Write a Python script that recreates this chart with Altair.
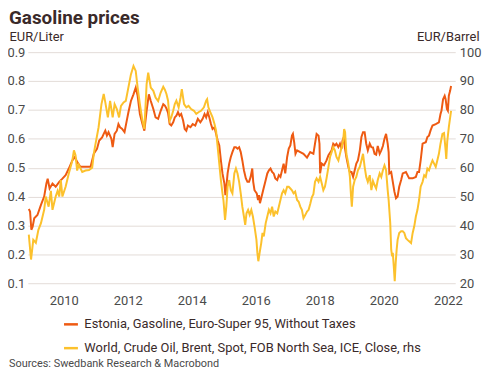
import altair as alt
import pandas as pd

EST = "Estonia, Gasoline, Euro-Super 95, Without Taxes"
BRENT = "World, Crude Oil, Brent, Spot, FOB North Sea, ICE, Close, rhs"
SOURCE = "Sources: Swedbank Research & Macrobond"

x_ticks = [2010, 2012, 2014, 2016, 2018, 2020, 2022]
left_ticks = [0.1, 0.2, 0.3, 0.4, 0.5, 0.6, 0.7, 0.8, 0.9]
right_ticks = [20, 30, 40, 50, 60, 70, 80, 90, 100]

# Estonia gasoline, EUR/Liter (left axis)
est_years = [2008.91, 2008.95, 2008.99, 2009.03, 2009.08, 2009.18, 2009.29, 2009.39, 2009.46, 2009.50,
             2009.56, 2009.65, 2009.75, 2009.86, 2009.96, 2010.06, 2010.16, 2010.27, 2010.35, 2010.42,
             2010.52, 2010.68, 2010.84, 2010.94, 2011.04, 2011.11, 2011.20, 2011.25, 2011.30, 2011.35,
             2011.40, 2011.49, 2011.53, 2011.59, 2011.66, 2011.71, 2011.76, 2011.82, 2011.90, 2011.97,
             2012.02, 2012.10, 2012.18, 2012.25, 2012.31, 2012.38, 2012.46, 2012.52, 2012.59, 2012.66,
             2012.72, 2012.80, 2012.87, 2012.95, 2013.03, 2013.11, 2013.16, 2013.21, 2013.26, 2013.31,
             2013.36, 2013.42, 2013.47, 2013.52, 2013.57, 2013.62, 2013.67, 2013.73, 2013.78, 2013.83,
             2013.88, 2013.96, 2014.03, 2014.11, 2014.19, 2014.27, 2014.34, 2014.40, 2014.45, 2014.50,
             2014.55, 2014.60, 2014.65, 2014.71, 2014.76, 2014.81, 2014.86, 2014.91, 2014.96, 2015.02,
             2015.05, 2015.09, 2015.12, 2015.17, 2015.22, 2015.27, 2015.33, 2015.38, 2015.43, 2015.48,
             2015.53, 2015.58, 2015.63, 2015.69, 2015.74, 2015.79, 2015.84, 2015.89, 2015.92, 2015.96,
             2016.03, 2016.07, 2016.10, 2016.13, 2016.17, 2016.23, 2016.31, 2016.36, 2016.41, 2016.46,
             2016.51, 2016.56, 2016.61, 2016.67, 2016.72, 2016.77, 2016.82, 2016.87, 2016.92, 2016.98,
             2017.03, 2017.08, 2017.13, 2017.16, 2017.20, 2017.24, 2017.29, 2017.39, 2017.49, 2017.60,
             2017.70, 2017.80, 2017.85, 2017.90, 2017.96, 2017.99, 2018.01, 2018.06, 2018.13, 2018.21,
             2018.27, 2018.37, 2018.42, 2018.47, 2018.52, 2018.58, 2018.63, 2018.68, 2018.71, 2018.75,
             2018.78, 2018.83, 2018.89, 2018.94, 2018.99, 2019.04, 2019.09, 2019.14, 2019.19, 2019.25,
             2019.30, 2019.35, 2019.40, 2019.45, 2019.50, 2019.56, 2019.61, 2019.66, 2019.71, 2019.76,
             2019.81, 2019.87, 2019.92, 2019.97, 2020.02, 2020.07, 2020.12, 2020.15, 2020.17, 2020.23,
             2020.28, 2020.33, 2020.38, 2020.43, 2020.48, 2020.54, 2020.59, 2020.69, 2020.79, 2020.90,
             2021.00, 2021.05, 2021.10, 2021.15, 2021.21, 2021.31, 2021.36, 2021.41, 2021.46, 2021.52,
             2021.62, 2021.72, 2021.77, 2021.80, 2021.85, 2021.90, 2021.93, 2021.97, 2022.00, 2022.03,
             2022.07, 2022.10]
est_values = [0.357, 0.348, 0.285, 0.296, 0.325, 0.336, 0.371, 0.400, 0.445, 0.462,
              0.428, 0.445, 0.434, 0.451, 0.462, 0.474, 0.497, 0.525, 0.537, 0.520,
              0.503, 0.503, 0.503, 0.548, 0.565, 0.594, 0.605, 0.617, 0.628, 0.611,
              0.623, 0.600, 0.571, 0.617, 0.628, 0.651, 0.640, 0.635, 0.623, 0.663,
              0.691, 0.731, 0.754, 0.777, 0.749, 0.686, 0.651, 0.628, 0.697, 0.754,
              0.731, 0.703, 0.674, 0.669, 0.697, 0.720, 0.715, 0.705, 0.690, 0.651,
              0.646, 0.657, 0.674, 0.680, 0.692, 0.680, 0.686, 0.663, 0.634, 0.628,
              0.646, 0.640, 0.651, 0.646, 0.669, 0.657, 0.669, 0.686, 0.674, 0.692,
              0.674, 0.651, 0.634, 0.640, 0.617, 0.594, 0.577, 0.525, 0.480, 0.445,
              0.405, 0.445, 0.480, 0.514, 0.537, 0.554, 0.571, 0.571, 0.566, 0.571,
              0.554, 0.525, 0.491, 0.463, 0.451, 0.451, 0.468, 0.497, 0.451, 0.422,
              0.411, 0.388, 0.405, 0.377, 0.394, 0.422, 0.457, 0.480, 0.491, 0.497,
              0.485, 0.480, 0.463, 0.457, 0.474, 0.468, 0.491, 0.514, 0.480, 0.537,
              0.566, 0.577, 0.611, 0.617, 0.588, 0.548, 0.560, 0.554, 0.548, 0.535,
              0.554, 0.548, 0.583, 0.617, 0.611, 0.583, 0.480, 0.514, 0.508, 0.525,
              0.543, 0.560, 0.583, 0.577, 0.583, 0.571, 0.583, 0.566, 0.594, 0.606,
              0.571, 0.537, 0.503, 0.485, 0.485, 0.468, 0.491, 0.514, 0.525, 0.560,
              0.606, 0.623, 0.623, 0.583, 0.560, 0.583, 0.571, 0.570, 0.548, 0.545,
              0.575, 0.548, 0.560, 0.575, 0.600, 0.617, 0.583, 0.554, 0.480, 0.485,
              0.451, 0.417, 0.394, 0.400, 0.434, 0.457, 0.480, 0.485, 0.463, 0.463,
              0.468, 0.485, 0.485, 0.525, 0.583, 0.588, 0.606, 0.611, 0.629, 0.646,
              0.651, 0.657, 0.686, 0.697, 0.737, 0.749, 0.737, 0.703, 0.697, 0.749,
              0.766, 0.783]

# Brent crude, EUR/Barrel (right axis)
brent_years = [2008.91, 2008.98, 2009.05, 2009.13, 2009.21, 2009.29, 2009.39, 2009.44, 2009.53, 2009.60,
               2009.65, 2009.75, 2009.81, 2009.86, 2009.91, 2009.96, 2010.06, 2010.16, 2010.27, 2010.32,
               2010.37, 2010.42, 2010.47, 2010.58, 2010.68, 2010.79, 2010.89, 2010.94, 2010.99, 2011.09,
               2011.18, 2011.25, 2011.30, 2011.38, 2011.45, 2011.53, 2011.59, 2011.66, 2011.73, 2011.79,
               2011.87, 2011.94, 2012.02, 2012.10, 2012.18, 2012.25, 2012.31, 2012.38, 2012.46, 2012.52,
               2012.59, 2012.64, 2012.72, 2012.80, 2012.87, 2012.95, 2013.03, 2013.11, 2013.16, 2013.21,
               2013.26, 2013.31, 2013.36, 2013.42, 2013.47, 2013.52, 2013.59, 2013.65, 2013.69, 2013.76,
               2013.83, 2013.90, 2013.98, 2014.07, 2014.14, 2014.21, 2014.29, 2014.38, 2014.45, 2014.48,
               2014.52, 2014.58, 2014.65, 2014.71, 2014.76, 2014.81, 2014.86, 2014.91, 2014.96, 2014.99,
               2015.04, 2015.08, 2015.12, 2015.17, 2015.22, 2015.27, 2015.33, 2015.38, 2015.43, 2015.48,
               2015.53, 2015.58, 2015.63, 2015.67, 2015.71, 2015.76, 2015.81, 2015.86, 2015.91, 2015.96,
               2016.02, 2016.05, 2016.08, 2016.12, 2016.17, 2016.21, 2016.25, 2016.31, 2016.36, 2016.41,
               2016.46, 2016.51, 2016.56, 2016.61, 2016.67, 2016.72, 2016.77, 2016.82, 2016.87, 2016.92,
               2016.98, 2017.03, 2017.08, 2017.13, 2017.18, 2017.23, 2017.29, 2017.34, 2017.39, 2017.44,
               2017.49, 2017.54, 2017.60, 2017.65, 2017.70, 2017.75, 2017.80, 2017.85, 2017.90, 2017.96,
               2018.01, 2018.06, 2018.11, 2018.16, 2018.21, 2018.27, 2018.32, 2018.37, 2018.42, 2018.47,
               2018.52, 2018.58, 2018.63, 2018.68, 2018.73, 2018.76, 2018.79, 2018.83, 2018.89, 2018.94,
               2018.97, 2019.00, 2019.04, 2019.09, 2019.14, 2019.19, 2019.25, 2019.30, 2019.35, 2019.40,
               2019.45, 2019.50, 2019.56, 2019.61, 2019.66, 2019.71, 2019.76, 2019.81, 2019.87, 2019.92,
               2019.97, 2020.02, 2020.07, 2020.12, 2020.15, 2020.20, 2020.23, 2020.26, 2020.28, 2020.31,
               2020.34, 2020.37, 2020.40, 2020.43, 2020.48, 2020.54, 2020.59, 2020.64, 2020.69, 2020.74,
               2020.79, 2020.85, 2020.90, 2020.95, 2021.00, 2021.05, 2021.10, 2021.15, 2021.21, 2021.26,
               2021.31, 2021.36, 2021.41, 2021.46, 2021.52, 2021.57, 2021.62, 2021.67, 2021.72, 2021.77,
               2021.83, 2021.88, 2021.93, 2021.95, 2021.98, 2022.03, 2022.10]
brent_values = [36.8, 28.2, 35.0, 34.0, 38.5, 40.8, 45.4, 50.0, 46.5, 52.0,
                45.4, 50.0, 52.0, 50.0, 55.7, 50.0, 53.4, 58.0, 62.5, 66.0,
                64.3, 59.0, 61.0, 58.5, 59.0, 59.2, 60.0, 64.8, 68.0, 74.0,
                82.0, 85.5, 82.6, 77.4, 83.1, 77.4, 82.0, 80.3, 77.4, 81.4,
                82.6, 83.1, 87.7, 92.3, 95.2, 93.5, 87.7, 82.0, 76.3, 73.4,
                88.9, 92.9, 87.7, 86.6, 84.3, 83.1, 86.0, 88.0, 87.0, 85.5,
                83.2, 76.3, 77.4, 79.7, 82.0, 83.2, 80.9, 84.3, 87.2, 82.0,
                80.9, 81.4, 80.3, 79.7, 78.6, 79.2, 79.7, 80.9, 83.2, 83.7,
                80.9, 79.2, 77.4, 75.1, 72.8, 67.1, 61.4, 55.7, 51.1, 48.8,
                41.9, 46.5, 53.4, 55.7, 52.2, 51.1, 58.0, 59.7, 58.0, 55.1,
                51.1, 46.5, 43.1, 40.2, 44.2, 45.4, 43.7, 45.4, 43.1, 39.7,
                35.1, 30.5, 27.6, 30.5, 33.9, 37.4, 36.2, 40.8, 43.1, 45.4,
                44.2, 46.5, 43.1, 44.8, 44.2, 46.5, 48.8, 51.1, 52.2, 51.1,
                53.4, 53.4, 52.8, 52.2, 51.1, 51.7, 48.8, 48.2, 46.5, 45.4,
                42.5, 43.5, 44.8, 45.4, 47.4, 49.7, 50.8, 55.1, 56.3, 55.1,
                56.8, 54.6, 52.2, 53.4, 56.3, 60.3, 63.7, 65.4, 67.1, 66.0,
                63.7, 62.5, 64.8, 67.1, 69.4, 73.4, 72.3, 64.8, 61.4, 56.8,
                51.1, 46.5, 53.4, 55.7, 56.8, 59.1, 60.3, 62.5, 64.8, 60.3,
                56.8, 55.1, 57.4, 52.2, 55.4, 54.0, 52.8, 55.7, 58.0, 56.8,
                59.1, 60.8, 59.1, 52.2, 48.8, 40.8, 31.6, 29.3, 30.5, 25.9,
                20.7, 27.0, 31.6, 35.0, 37.4, 38.0, 38.0, 37.4, 35.6, 35.0,
                34.5, 33.9, 37.4, 39.7, 43.1, 45.4, 48.8, 53.4, 55.1, 57.4,
                56.8, 59.7, 59.1, 60.8, 62.5, 61.4, 60.3, 62.5, 64.8, 68.3,
                71.7, 72.0, 66.0, 63.0, 69.0, 74.0, 79.7]

ORANGE = "#ee5a12"
YELLOW = "#fcc12c"
TEXT = "#3a2a2a"
LABEL = "#4a4a4a"
GRID = "#e3dcd8"
FONT = "Roboto"

df_est = pd.DataFrame({"year": est_years, "value": est_values, "series": EST})
df_brent = pd.DataFrame({"year": brent_years, "value": brent_values, "series": BRENT})
df_src = pd.DataFrame({"t": [SOURCE]})

x_enc = alt.X(
    "year:Q",
    scale=alt.Scale(domain=[2008.88, 2022.23], nice=False, zero=False),
    axis=alt.Axis(values=x_ticks, format="d", grid=False, domain=False, ticks=False, tickSize=0,
                  labelPadding=11, labelFontSize=13, labelFont=FONT, labelColor=LABEL,
                  labelFlush=False, title=None),
)

color_enc = alt.Color(
    "series:N",
    scale=alt.Scale(domain=[EST, BRENT], range=[ORANGE, YELLOW]),
    legend=alt.Legend(orient="none", legendX=35, legendY=266, title=None, direction="vertical",
                      symbolType="stroke", symbolSize=196, symbolStrokeWidth=2.5,
                      labelFontSize=13, labelFont=FONT, labelColor=TEXT, labelLimit=400,
                      rowPadding=8, labelOffset=5, padding=0),
)

est_line = alt.Chart(df_est).mark_line(strokeWidth=2).encode(
    x=x_enc,
    y=alt.Y("value:Q",
            scale=alt.Scale(domain=[0.1, 0.9], nice=False, zero=False),
            axis=alt.Axis(orient="left", values=left_ticks, format=".1f", grid=True, gridColor=GRID,
                          domain=False, ticks=False, tickSize=0, labelPadding=3, labelFontSize=13,
                          labelFont=FONT, labelColor=LABEL,
                          title="EUR/Liter", titleAngle=0, titleX=-19, titleY=-12, titleAlign="left",
                          titleBaseline="alphabetic", titleFontSize=13, titleFontWeight="normal",
                          titleFont=FONT, titleColor=TEXT)),
    color=color_enc,
)

brent_line = alt.Chart(df_brent).mark_line(strokeWidth=2).encode(
    x=x_enc,
    y=alt.Y("value:Q",
            scale=alt.Scale(domain=[20, 100], nice=False, zero=False),
            axis=alt.Axis(orient="right", values=right_ticks, format="d", grid=False,
                          domain=False, ticks=False, tickSize=0, labelPadding=4, labelFontSize=13,
                          labelFont=FONT, labelColor=LABEL,
                          title="EUR/Barrel", titleAngle=0, titleX=24, titleY=-12, titleAlign="right",
                          titleBaseline="alphabetic", titleFontSize=13, titleFontWeight="normal",
                          titleFont=FONT, titleColor=TEXT)),
    color=color_enc,
)

source = alt.Chart(df_src).mark_text(align="left", baseline="alphabetic", fontSize=11, font=FONT,
                                      color=LABEL).encode(
    x=alt.value(-19), y=alt.value(317), text="t:N"
)

chart = alt.layer(est_line, brent_line, source).resolve_scale(y="independent").properties(
    width=431,
    height=233,
    padding={"left": 20, "top": 43, "right": 28, "bottom": 85},
    autosize=alt.AutoSizeParams(type="none"),
    title=alt.TitleParams("Gasoline prices", anchor="start", frame="group", dx=-19, dy=12,
                          fontSize=19, font=FONT, fontWeight="bold", color=TEXT, offset=14),
).configure_view(stroke=None)

chart.save("out.html", embed_options={"renderer": "svg", "actions": False})
